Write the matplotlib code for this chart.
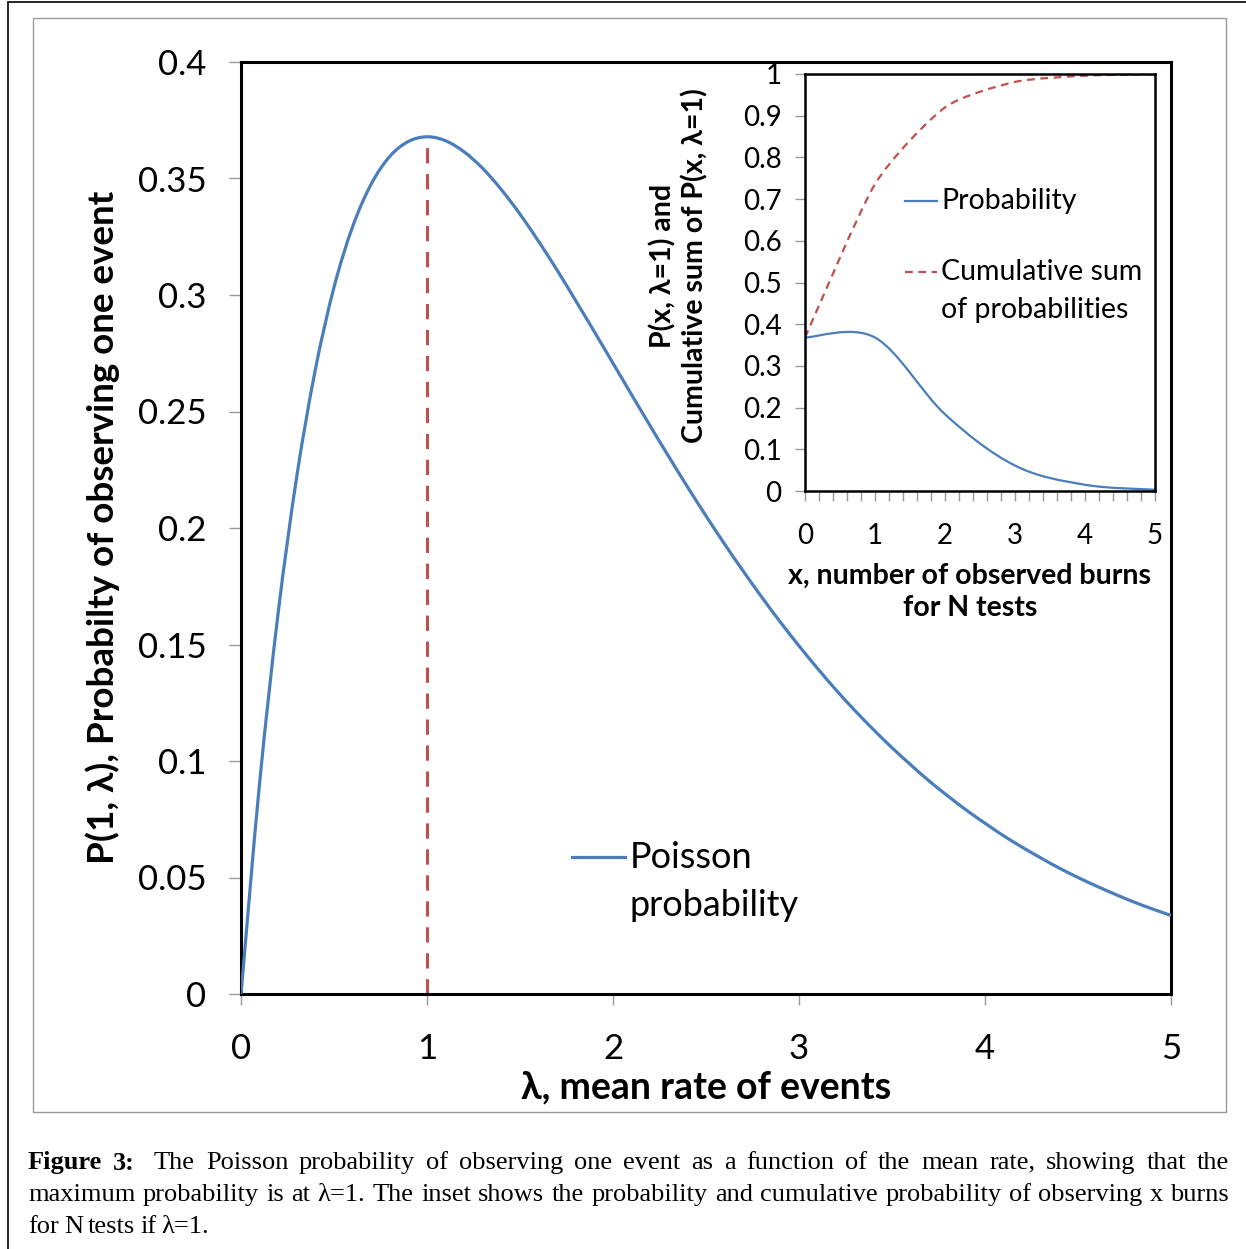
import matplotlib
matplotlib.use("Agg")
import matplotlib.pyplot as plt
from matplotlib.path import Path
from matplotlib.patches import PathPatch, Rectangle
from matplotlib.lines import Line2D
import matplotlib.ticker as ticker

# ---- data ----
lam = [0.0, 0.1, 0.2, 0.3, 0.4, 0.5, 0.6, 0.7, 0.8, 0.9,
       1.0, 1.1, 1.2, 1.3, 1.4, 1.5, 1.6, 1.7, 1.8, 1.9,
       2.0, 2.1, 2.2, 2.3, 2.4, 2.5, 2.6, 2.7, 2.8, 2.9,
       3.0, 3.1, 3.2, 3.3, 3.4, 3.5, 3.6, 3.7, 3.8, 3.9,
       4.0, 4.1, 4.2, 4.3, 4.4, 4.5, 4.6, 4.7, 4.8, 4.9, 5.0]
p_one = [0.0000, 0.0905, 0.1637, 0.2222, 0.2681, 0.3033, 0.3293, 0.3476, 0.3595, 0.3659,
         0.3679, 0.3662, 0.3614, 0.3543, 0.3452, 0.3347, 0.3230, 0.3106, 0.2975, 0.2842,
         0.2707, 0.2572, 0.2438, 0.2306, 0.2177, 0.2052, 0.1931, 0.1815, 0.1703, 0.1596,
         0.1494, 0.1397, 0.1304, 0.1217, 0.1135, 0.1057, 0.0984, 0.0914, 0.0850, 0.0789,
         0.0733, 0.0679, 0.0630, 0.0584, 0.0540, 0.0500, 0.0463, 0.0428, 0.0395, 0.0365, 0.0337]

x_burns = [0, 1, 2, 3, 4, 5]
prob = [0.368, 0.368, 0.184, 0.061, 0.015, 0.003]
cum_prob = [0.368, 0.736, 0.920, 0.981, 0.996, 0.999]

peak_lam = 1.0
peak_p = 0.368

caption = [
    [("Figure", "bold"), ("3:", "bold"), ("The", None), ("Poisson", None), ("probability", None), ("of", None),
     ("observing", None), ("one", None), ("event", None), ("as", None), ("a", None), ("function", None),
     ("of", None), ("the", None), ("mean", None), ("rate,", None), ("showing", None), ("that", None), ("the", None)],
    [(w, None) for w in "maximum probability is at \u03bb=1. The inset shows the probability and cumulative probability of observing x burns".split()],
    [(w, None) for w in "for N tests if \u03bb=1.".split()],
]

BLUE = "#4A7EBB"
RED = "#C0504D"
W, H = 1246, 1249
FONT = ["Lato", "Noto Sans", "DejaVu Sans"]
plt.rcParams["font.family"] = FONT


def fx(x):
    return x / W


def fy(y):
    return 1 - y / H


def smooth_path(xs, ys, k=6.0):
    # Excel-style smoothed line: cubic Bezier through the points
    verts = [(xs[0], ys[0])]
    codes = [Path.MOVETO]
    n = len(xs)
    for i in range(n - 1):
        x0, y0 = (xs[i - 1], ys[i - 1]) if i > 0 else (xs[i], ys[i])
        x3, y3 = (xs[i + 2], ys[i + 2]) if i + 2 < n else (xs[i + 1], ys[i + 1])
        c1 = (xs[i] + (xs[i + 1] - x0) / k, ys[i] + (ys[i + 1] - y0) / k)
        c2 = (xs[i + 1] - (x3 - xs[i]) / k, ys[i + 1] - (y3 - ys[i]) / k)
        verts += [c1, c2, (xs[i + 1], ys[i + 1])]
        codes += [Path.CURVE4] * 3
    return Path(verts, codes)


fig = plt.figure(figsize=(W / 100, H / 100), dpi=100)

# frames around the figure
fig.add_artist(Rectangle((fx(8), fy(1260)), fx(1260), fy(2) - fy(1260), transform=fig.transFigure,
                         fill=False, edgecolor="black", linewidth=1.2))
fig.add_artist(Rectangle((fx(33), fy(1112)), fx(1226 - 33), fy(18) - fy(1112), transform=fig.transFigure,
                         fill=False, edgecolor="#999999", linewidth=1.0))

# ---- main plot ----
ax = fig.add_axes([fx(241), fy(994), fx(1171 - 241), fy(62) - fy(994)])
ax.add_patch(PathPatch(smooth_path(lam, p_one), fill=False, edgecolor=BLUE, linewidth=2.3, zorder=3))
ax.plot([peak_lam, peak_lam], [0, peak_p], color=RED, linewidth=2.2, dashes=(5, 3.5), zorder=2)
ax.set_xlim(0, 5)
ax.set_ylim(0, 0.4)
ax.set_xticks(range(6))
ax.set_yticks([i * 0.05 for i in range(9)])
ax.yaxis.set_major_formatter(ticker.FuncFormatter(lambda v, _: f"{v:g}"))
for s in ax.spines.values():
    s.set_linewidth(2.2)
    s.set_color("black")
ax.tick_params(axis="y", direction="out", length=9, width=1, color="#999999", labelsize=25, pad=16)
ax.tick_params(axis="x", direction="out", length=8, width=1, color="#999999", labelsize=25, pad=20)

fig.text(fx(103), fy(527), "P(1, \u03bb), Probabilty of observing one event", rotation=90,
         ha="center", va="center", fontsize=26.5, fontweight="bold")
fig.text(fx(706), fy(1087), "\u03bb, mean rate of events", ha="center", va="center",
         fontsize=27, fontweight="bold")

# main legend
fig.add_artist(Line2D([fx(572), fx(625)], [fy(857), fy(857)], color=BLUE, linewidth=2.3,
                      transform=fig.transFigure))
fig.text(fx(630), fy(857), "Poisson", ha="left", va="center", fontsize=26)
fig.text(fx(630), fy(906), "probability", ha="left", va="center", fontsize=26)

# ---- inset ----
ins = fig.add_axes([fx(805), fy(491), fx(1155 - 805), fy(74) - fy(491)])
ins.set_facecolor("white")
ins.set_xlim(0, 5)
ins.set_ylim(0, 1)
ins.add_patch(PathPatch(smooth_path(x_burns, prob), fill=False, edgecolor=BLUE, linewidth=1.6))
ins.add_patch(PathPatch(smooth_path(x_burns, cum_prob, k=9.0), fill=False, edgecolor=RED, linewidth=1.6,
                        linestyle=(0, (3.5, 2.5))))
ins.set_xticks(range(6))
ins.xaxis.set_minor_locator(ticker.MultipleLocator(0.2))
ins.set_yticks([i / 10 for i in range(11)])
ins.yaxis.set_major_formatter(ticker.FuncFormatter(lambda v, _: f"{v:g}"))
for s in ins.spines.values():
    s.set_linewidth(1.8)
    s.set_color("black")
ins.tick_params(axis="both", which="both", direction="out", length=7, width=1, color="#999999")
ins.tick_params(axis="y", labelsize=20, pad=10)
ins.tick_params(axis="x", labelsize=20, pad=16)

fig.text(fx(679), fy(266), "P(x, \u03bb=1) and\nCumulative sum of P(x, \u03bb=1)", rotation=90,
         ha="center", va="center", fontsize=20.5, fontweight="bold", linespacing=1.25)
fig.text(fx(970), fy(592), "x, number of observed burns\nfor N tests", ha="center", va="center",
         fontsize=20.5, fontweight="bold", linespacing=1.3)

# inset legend
fig.add_artist(Line2D([fx(905), fx(937)], [fy(201), fy(201)], color=BLUE, linewidth=1.6,
                      transform=fig.transFigure))
fig.text(fx(941), fy(201), "Probability", ha="left", va="center", fontsize=20.5)
fig.add_artist(Line2D([fx(905), fx(937)], [fy(272), fy(272)], color=RED, linewidth=1.6,
                      linestyle=(0, (3.5, 2.5)), transform=fig.transFigure))
fig.text(fx(941), fy(272), "Cumulative sum", ha="left", va="center", fontsize=20.5)
fig.text(fx(941), fy(310), "of probabilities", ha="left", va="center", fontsize=20.5)

# ---- caption (justified) ----
renderer = fig.canvas.get_renderer()
left_px, right_px = 28, 1229
line_y = [1163, 1195, 1227]
for li, words in enumerate(caption):
    texts = []
    for w, weight in words:
        t = fig.text(0, fy(line_y[li]), w, ha="left", va="center", fontsize=19,
                     family=["Liberation Serif", "DejaVu Serif"], fontweight=weight or "normal")
        texts.append(t)
    widths = [t.get_window_extent(renderer).width for t in texts]
    if li < len(caption) - 1:
        gap = (right_px - left_px - sum(widths) - (8 if li == 0 else 0)) / (len(texts) - 1)
    else:
        gap = 5
    x = left_px
    for i, (t, wdt) in enumerate(zip(texts, widths)):
        t.set_x(fx(x))
        x += wdt + gap
        if li == 0 and i == 1:
            x += 8

fig.savefig("out.png", dpi=100)
